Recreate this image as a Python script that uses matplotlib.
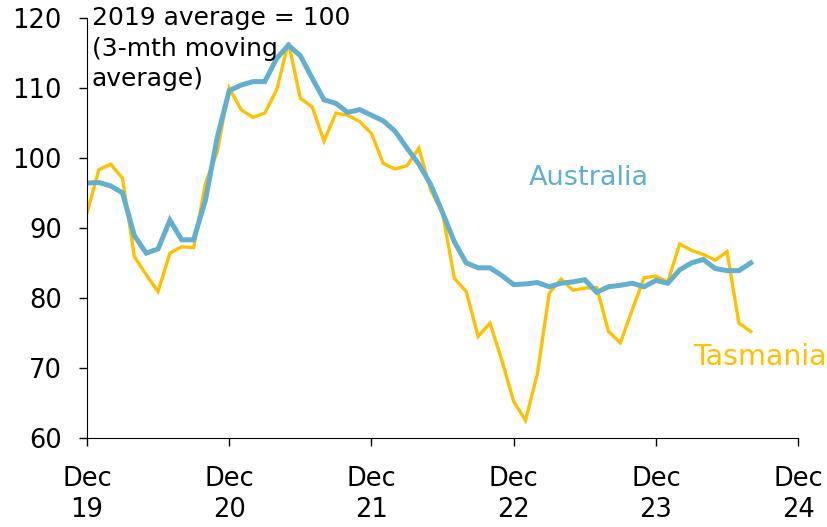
# Tasmania vs Australia index, 3-month moving average

import numpy as np
from matplotlib import pyplot as plt

# monthly values, Dec 2019 .. Aug 2024
australia = [96.4, 96.5, 96.0, 95.0, 88.9, 86.4, 87.0, 91.1, 88.3, 88.3,
             94.0, 103.0, 109.6, 110.4, 110.9, 110.9, 114.2, 116.1, 114.6, 111.4,
             108.3, 107.8, 106.5, 106.9, 106.1, 105.3, 103.8, 101.4, 99.1, 96.2,
             92.2, 88.0, 85.0, 84.3, 84.3, 83.2, 81.9, 82.0, 82.2, 81.6,
             82.1, 82.3, 82.6, 80.8, 81.6, 81.8, 82.1, 81.6, 82.5, 82.1,
             84.0, 85.0, 85.5, 84.2, 83.9, 83.9, 85.0]
tasmania = [92.1, 98.3, 99.1, 97.1, 85.9, 83.3, 80.9, 86.4, 87.3, 87.2,
            96.4, 100.9, 110.0, 106.9, 105.8, 106.4, 109.7, 116.5, 108.5, 107.3,
            102.4, 106.4, 106.1, 105.2, 103.5, 99.2, 98.4, 98.9, 101.4, 95.4,
            92.1, 82.8, 80.9, 74.5, 76.4, 71.1, 65.2, 62.5, 69.2, 80.7,
            82.7, 81.1, 81.4, 81.5, 75.2, 73.6, 78.3, 82.9, 83.1, 82.3,
            87.7, 86.8, 86.2, 85.4, 86.6, 76.4, 75.2]
tick_labels = ['Dec\n19', 'Dec\n20', 'Dec\n21', 'Dec\n22', 'Dec\n23', 'Dec\n24']

blue = '#62B0CE'
gold = '#FFC000'

plt.rcParams['font.family'] = 'DejaVu Sans'
fig = plt.figure(figsize=(8.28, 5.27), dpi=100)
ax = fig.add_axes([0.105, 0.169, 0.859, 0.797])

months = np.arange(len(australia))
ax.plot(months, tasmania, color=gold, lw=2.4, solid_joinstyle='miter')
ax.plot(months, australia, color=blue, lw=3.6, solid_joinstyle='miter')

ax.set_xlim(0, 60)
ax.set_ylim(60, 120)
ax.set_xticks(np.arange(0, 61, 12))
ax.set_xticklabels(tick_labels, linespacing=1.25)
ax.set_yticks(np.arange(60, 121, 10))
ax.tick_params(axis='both', labelsize=18.5, length=6, width=1, direction='out')
ax.tick_params(axis='x', pad=14)
ax.tick_params(axis='y', pad=12)
for s in ['top', 'right']:
    ax.spines[s].set_visible(False)

ax.text(0.4, 121.7, '2019 average = 100\n(3-mth moving\naverage)', fontsize=18,
        va='top', ha='left', linespacing=1.35)
ax.text(37.3, 97.1, 'Australia', color=blue, fontsize=19.5, va='center')
ax.text(51.1, 71.6, 'Tasmania', color=gold, fontsize=20.5, va='center', clip_on=False)

fig.savefig('out.png', dpi=100)
